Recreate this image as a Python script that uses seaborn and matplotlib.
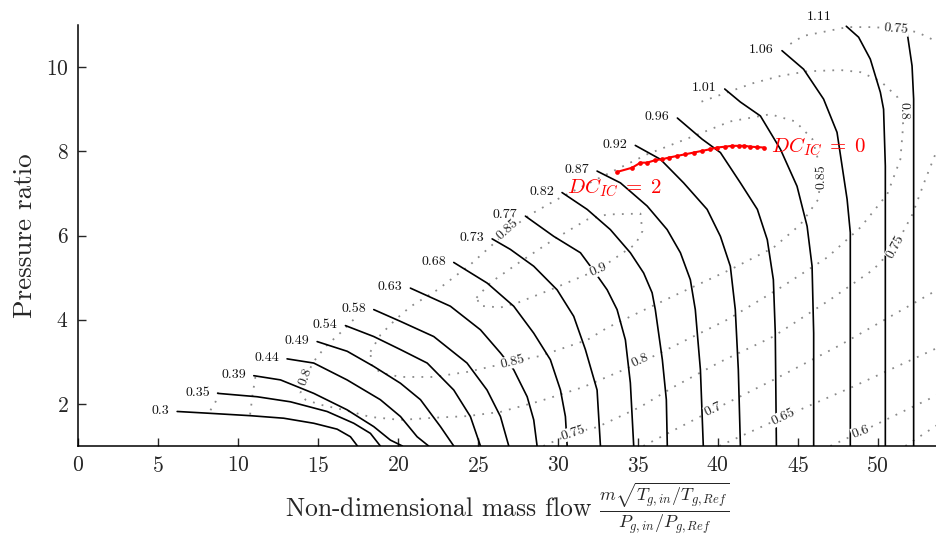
import numpy as np
import pandas as pd
import matplotlib
matplotlib.use("Agg")
import matplotlib.pyplot as plt
import seaborn as sns

# ---------------- data ----------------
speed_labels = ['0.3', '0.35', '0.39', '0.44', '0.49', '0.54', '0.58', '0.63', '0.68', '0.73',
                '0.77', '0.82', '0.87', '0.92', '0.96', '1.01', '1.06', '1.11', '']
speed_x = [
    [6.2, 8.08, 10.78, 12.86, 14.74, 16.2, 17.03, 17.47],
    [8.74, 11.2, 13.28, 15.57, 17.24, 18.28, 18.9],
    [10.99, 12.66, 14.74, 16.82, 18.49, 19.53, 20.28],
    [13.07, 14.74, 16.82, 18.9, 20.16, 21.2, 21.92],
    [14.95, 16.83, 18.49, 20.16, 21.41, 22.66, 23.49],
    [16.72, 18.49, 20.16, 21.83, 23.49, 24.53, 25.16],
    [18.49, 20.16, 22.24, 24.32, 25.57, 26.41, 26.93],
    [20.78, 23.28, 25.16, 26.41, 27.24, 28.08, 28.49, 28.7],
    [23.49, 25.58, 27.24, 28.49, 29.53, 30.16, 30.47, 30.58],
    [25.89, 27.03, 28.49, 29.95, 30.99, 31.72, 32.45, 32.66],
    [27.97, 29.74, 31.41, 32.34, 33.08, 33.7, 34.22, 34.53, 34.74],
    [30.26, 31.83, 33.28, 34.53, 35.36, 35.89, 36.09, 36.53, 36.78, 36.84],
    [32.45, 33.91, 35.58, 36.83, 37.66, 38.28, 38.59, 38.91, 39.09],
    [34.84, 36.41, 37.86, 39.33, 40.16, 40.78, 41.09, 41.28, 41.41],
    [37.47, 39.01, 40.16, 41.41, 42.47, 43.09, 43.47, 43.59, 43.66],
    [40.43, 41.41, 42.66, 43.91, 44.95, 45.58, 45.89, 45.99, 45.99],
    [44.01, 45.36, 46.61, 47.45, 48.08, 48.28, 48.28],
    [48.03, 48.8, 49.53, 50.16, 50.36, 50.47, 50.47],
    [51.83, 52.14, 52.24, 52.24],
]
speed_y = [
    [1.82, 1.78, 1.72, 1.66, 1.54, 1.40, 1.22, 1.0],
    [2.25, 2.17, 2.05, 1.82, 1.54, 1.30, 1.0],
    [2.67, 2.57, 2.25, 1.86, 1.46, 1.14, 1.0],
    [3.07, 2.97, 2.57, 2.10, 1.70, 1.22, 1.0],
    [3.48, 3.25, 2.89, 2.49, 2.10, 1.46, 1.0],
    [3.86, 3.60, 3.29, 2.97, 2.33, 1.70, 1.0],
    [4.24, 3.96, 3.60, 2.97, 2.33, 1.70, 1.0],
    [4.75, 4.32, 3.76, 3.21, 2.81, 2.17, 1.62, 1.0],
    [5.36, 4.87, 4.32, 3.68, 3.05, 2.33, 1.70, 1.0],
    [5.92, 5.67, 5.27, 4.71, 4.08, 3.29, 2.33, 1.0],
    [6.46, 5.98, 5.59, 5.11, 4.71, 4.24, 3.52, 2.5, 1.0],
    [7.02, 6.62, 6.14, 5.59, 5.11, 4.64, 4.24, 3.05, 2.1, 1.0],
    [7.53, 7.25, 6.70, 6.14, 5.59, 4.95, 4.24, 2.81, 1.0],
    [8.14, 7.81, 7.25, 6.62, 5.98, 5.27, 4.24, 2.81, 1.0],
    [8.79, 8.29, 7.97, 7.25, 6.62, 5.90, 4.95, 3.69, 1.0],
    [9.48, 9.17, 8.84, 8.05, 7.17, 6.22, 5.27, 3.68, 1.0],
    [10.39, 9.95, 9.24, 8.45, 6.86, 6.07, 1.0],
    [10.97, 10.71, 10.19, 9.40, 9.0, 7.65, 1.0],
    [10.83, 10.03, 9.24, 1.0],
]

eff_levels = ['0.7', '0.75', '0.8', '0.85', '0.9', '0.75', '0.75', '0.7', '0.65', '0.6', '0.55']
eff_x = [
    [8.75, 8.6, 8.2],
    [11.09, 10.91, 10.75],
    [17.22, 16.41, 15.47, 14.72, 14.22, 13.91, 14.22, 15.16, 16.59, 18.28, 20.16, 22.22, 24.34,
     26.41, 28.91, 31.59, 35.16, 37.66, 40.59, 43.91, 46.84, 48.91, 50.59, 51.41, 51.59, 51.22,
     50.16, 48.91, 47.66, 45.59, 43.91, 42.22, 40.59, 38.91],
    [18.28, 18.91, 19.84, 20.78, 22.47, 24.53, 26.84, 28.28, 30.16, 32.66, 35.59, 38.28, 40.78,
     43.28, 44.84, 45.91, 46.47, 46.28, 45.16, 43.47, 40.78, 37.66, 35.16, 33.09, 31.84, 28.91,
     27.16, 24.34, 22.22, 20.16, 18.91, 18.34, 18.28],
    [24.91, 25.78, 27.66, 29.72, 31.84, 33.09, 35.16, 35.28, 34.84, 32.53, 29.53, 27.47, 26.41,
     25.16, 24.91],
    [29.09, 30.97, 32.47, 35.16, 37.22, 40.16, 43.47, 47.03, 49.72, 51.09, 52.16, 52.97, 53.72],
    [44.53, 45.34, 48.09, 49.72, 51.41, 52.47, 53.72],
    [35.34, 39.72, 43.47, 47.66, 53.72],
    [40.09, 44.09, 48.28, 53.72],
    [47.03, 48.91, 51.41, 53.72],
    [51.72, 53.72],
]
eff_y = [
    [2.28, 2.05, 1.80],
    [2.64, 2.21, 1.72],
    [4.00, 3.69, 3.36, 3.00, 2.62, 2.26, 2.10, 1.98, 1.86, 1.69, 1.62, 1.67, 1.71,
     1.81, 2.07, 2.40, 2.98, 3.45, 4.00, 4.76, 5.48, 6.19, 6.98, 7.81, 8.64, 9.29,
     9.67, 9.88, 9.93, 9.90, 9.79, 9.62, 9.40, 9.17],
    [3.24, 3.64, 4.00, 4.31, 4.71, 5.31, 6.10, 6.50, 6.90, 7.38, 7.93, 8.33, 8.71,
     8.88, 8.71, 8.29, 7.52, 6.86, 6.26, 5.71, 5.19, 4.64, 4.19, 3.81, 3.52, 3.14,
     3.00, 2.76, 2.64, 2.64, 2.74, 2.93, 3.24],
    [4.52, 4.88, 5.38, 5.90, 6.38, 6.50, 6.52, 6.10, 5.79, 5.19, 4.71, 4.40, 4.29,
     4.33, 4.52],
    [1.00, 1.31, 1.45, 1.93, 2.40, 3.00, 3.60, 4.48, 5.19, 5.74, 6.50, 7.33, 8.05],
    [10.55, 10.74, 10.95, 10.95, 10.90, 10.83, 10.60],
    [1.00, 1.86, 2.57, 3.40, 4.71],
    [1.00, 1.69, 2.38, 3.33],
    [1.00, 1.33, 1.79, 2.21],
    [1.00, 1.50],
]

# contour label texts and where they sit
eff_label_text = ['0.9', '0.85', '0.85', '0.85', '0.8', '0.8', '0.8', '0.75', '0.75', '0.75',
                  '0.7', '0.65', '0.6']
eff_label_x = [32.53, 26.84, 27.16, 46.47, 14.22, 35.16, 51.59, 30.97, 51.09, 51.16, 39.72, 44.09, 48.91]
eff_label_y = [5.19, 6.14, 3.00, 7.40, 2.64, 3.02, 8.95, 1.31, 5.74, 10.90, 1.86, 1.69, 1.33]

dc_x = [33.70, 34.64, 35.16, 35.58, 36.09, 36.51, 36.93, 37.45, 37.97, 38.49, 39.01, 39.53,
        39.95, 40.47, 40.89, 41.30, 41.66, 42.03, 42.45, 42.86]
dc_y = [7.51, 7.61, 7.73, 7.73, 7.79, 7.81, 7.85, 7.89, 7.93, 7.97, 8.01, 8.05,
        8.09, 8.11, 8.13, 8.13, 8.13, 8.11, 8.10, 8.09]

x_ticks = [0, 5, 10, 15, 20, 25, 30, 35, 40, 45, 50]
y_ticks = [2, 4, 6, 8, 10]

# ---------------- styling ----------------
sns.set_style("ticks")
plt.rcParams.update({
    "font.family": ["serif"],
    "font.serif": ["cmr10", "DejaVu Serif"],
    "mathtext.fontset": "cm",
    "axes.unicode_minus": False,
    "axes.formatter.use_mathtext": True,
})

fig = plt.figure(figsize=(9.37, 5.36), dpi=100)
ax = fig.add_axes([78 / 937, 90 / 536, 859 / 937, 421 / 536])

# tables for seaborn
rows = []
for i, (xs, ys) in enumerate(zip(speed_x, speed_y)):
    for k, (xv, yv) in enumerate(zip(xs, ys)):
        rows.append({"line": i, "order": k, "x": xv, "y": yv})
df_speed = pd.DataFrame(rows)

rows = []
for i, (xs, ys) in enumerate(zip(eff_x, eff_y)):
    for k, (xv, yv) in enumerate(zip(xs, ys)):
        rows.append({"line": i, "order": k, "x": xv, "y": yv})
df_eff = pd.DataFrame(rows)

sns.lineplot(data=df_eff, x="x", y="y", units="line", estimator=None, sort=False,
             color="#8a8a8a", lw=1.3, linestyle=(0, (1, 4)), ax=ax, legend=False)
sns.lineplot(data=df_speed, x="x", y="y", units="line", estimator=None, sort=False,
             color="black", lw=1.2, ax=ax, legend=False)

# speed line labels
for lab, xs, ys in zip(speed_labels, speed_x, speed_y):
    if not lab:
        continue
    dy = 0.22 if lab == '1.11' else 0.02
    dx = 0.9 if lab == '1.11' else 0.5
    ax.text(xs[0] - dx, ys[0] + dy, lab, ha="right", va="center", fontsize=10,
            color="#111111", clip_on=False)

# efficiency labels
eff_rot = [23, 42, 14, 90, 70, 25, -90, 18, 62, -5, 25, 25, 20]
for t, xv, yv, r in zip(eff_label_text, eff_label_x, eff_label_y, eff_rot):
    ax.text(xv, yv, t, ha="center", va="center", rotation=r, fontsize=10, color="#222222",
            bbox=dict(facecolor="white", edgecolor="none", pad=0.3), zorder=4)

# DC_IC trajectory
sns.lineplot(x=dc_x, y=dc_y, sort=False, color="red", lw=1.5, marker="o", markersize=3.4,
             markeredgewidth=0, ax=ax, zorder=5)
ax.text(43.3, 8.1, r"$DC_{IC}\;=\;0$", color="red", fontsize=15, ha="left", va="center", zorder=6)
ax.text(30.6, 7.14, r"$DC_{IC}\;=\;2$", color="red", fontsize=15, ha="left", va="center", zorder=6)

ax.set_xlim(0, 53.7)
ax.set_ylim(1, 11)
ax.set_xticks(x_ticks)
ax.set_yticks(y_ticks)
ax.tick_params(direction="in", length=6, width=1, labelsize=15.5, pad=7)
for s in ["top", "right"]:
    ax.spines[s].set_visible(False)
for s in ["left", "bottom"]:
    ax.spines[s].set_linewidth(1.1)
    ax.spines[s].set_color("black")

ax.set_ylabel("Pressure ratio", fontsize=19.5, labelpad=6)
ax.set_xlabel(r"Non-dimensional mass flow $\frac{m\sqrt{T_{g,in}/T_{g,Ref}}}{P_{g,in}/P_{g,Ref}}$",
              fontsize=18.5, va="center")
ax.xaxis.set_label_coords(0.5, -(509 - 446) / 421)

fig.savefig("out.png", dpi=100)
